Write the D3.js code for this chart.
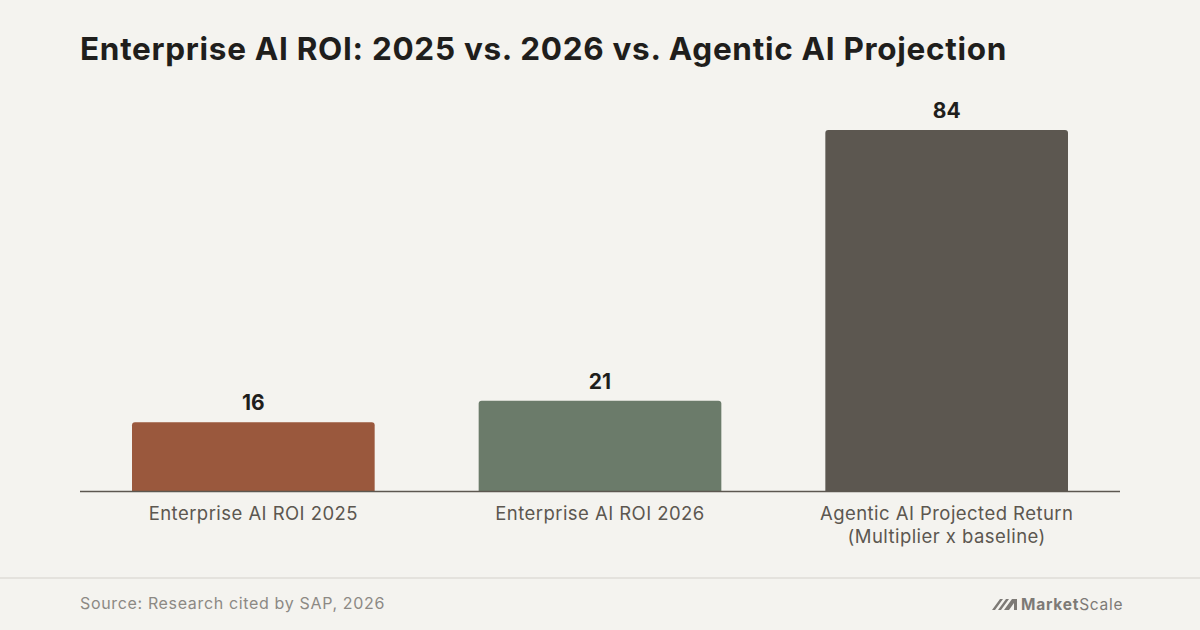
<!DOCTYPE html>
<html><head><meta charset="utf-8">
<script src="https://cdn.jsdelivr.net/npm/d3@7"></script>
<style>
html,body{margin:0;padding:0;background:#f4f3ef;}
svg{display:block;}
</style></head>
<body>
<svg id="chart" width="1200" height="630"></svg>
<script>
const categories = [["Enterprise AI ROI 2025"], ["Enterprise AI ROI 2026"], ["Agentic AI Projected Return", "(Multiplier x baseline)"]];
const values = [16, 21, 84];
const colors = ["#9a583d", "#6b7b6a", "#5c5750"];
const title = "Enterprise AI ROI: 2025 vs. 2026 vs. Agentic AI Projection";
const source = "Source: Research cited by SAP, 2026";

const svg = d3.select("#chart");
const W = 1200, H = 630;
const FONT = "Inter, 'Liberation Sans', sans-serif";
svg.append("rect").attr("width", W).attr("height", H).attr("fill", "#f4f3ef");

function fitWidth(sel, target) {
  const node = sel.node();
  const n = node.textContent.length;
  const w = node.getComputedTextLength();
  sel.attr("letter-spacing", (target - w) / n);
}

const t = svg.append("text").attr("x", 80).attr("y", 60)
  .attr("font-family", FONT)
  .attr("font-weight", 700).attr("font-size", 31.5)
  .attr("fill", "#1f1e1c").text(title);
fitWidth(t, 927);

const x = d3.scaleBand().domain(d3.range(values.length)).range([80, 1120])
  .paddingInner(0.3).paddingOuter(0.15);
const y = d3.scaleLinear().domain([0, 84]).range([491, 130]);

const g = svg.append("g");
g.selectAll("path.bar").data(values).join("path").attr("class", "bar")
  .attr("d", (d, i) => {
    const x0 = x(i), w = x.bandwidth(), y0 = y(d), h = y(0) - y(d), r = 3;
    return `M${x0},${y0 + h}V${y0 + r}Q${x0},${y0} ${x0 + r},${y0}H${x0 + w - r}Q${x0 + w},${y0} ${x0 + w},${y0 + r}V${y0 + h}Z`;
  })
  .attr("fill", (d, i) => colors[i]);

g.selectAll("text.val").data(values).join("text").attr("class", "val")
  .attr("x", (d, i) => x(i) + x.bandwidth() / 2).attr("y", d => y(d) - 12)
  .attr("text-anchor", "middle")
  .attr("font-family", FONT)
  .attr("font-weight", 700).attr("font-size", 21).attr("fill", "#1f1e1c")
  .text(d => d);

svg.append("line").attr("x1", 80).attr("x2", 1120).attr("y1", y(0) + 0.5).attr("y2", y(0) + 0.5)
  .attr("stroke", "#5c5750").attr("stroke-width", 1.5);

const labels = g.selectAll("text.cat").data(categories).join("text").attr("class", "cat")
  .attr("x", (d, i) => x(i) + x.bandwidth() / 2).attr("y", 520)
  .attr("text-anchor", "middle")
  .attr("font-family", FONT)
  .attr("font-size", 18.5).attr("letter-spacing", 0.45).attr("fill", "#5c5750");
labels.each(function(d, i) {
  d3.select(this).selectAll("tspan").data(d).join("tspan")
    .attr("x", x(i) + x.bandwidth() / 2).attr("dy", (t, j) => j === 0 ? 0 : 23).text(t => t);
});

svg.append("line").attr("x1", 0).attr("x2", W).attr("y1", 578).attr("y2", 578)
  .attr("stroke", "#e4e2dd").attr("stroke-width", 2);

const s = svg.append("text").attr("x", 80).attr("y", 609)
  .attr("font-family", FONT)
  .attr("font-size", 16).attr("fill", "#8c8984").text(source);
fitWidth(s, 305);

// logo
const logo = svg.append("g").attr("transform", "translate(992,599)");
logo.append("path")
  .attr("d", "M0,11 L8,0 L11,0 L3,11Z M6,11 L14,0 L17,0 L9,11Z M12,11 L20,0 L25,0 L25,11 L22,11 L22,4 L17,11Z")
  .attr("fill", "#7d7a76");
const lt = svg.append("text").attr("x", 1021).attr("y", 610)
  .attr("font-family", FONT)
  .attr("font-size", 15.5).attr("letter-spacing", -0.4).attr("fill", "#7d7a76");
lt.append("tspan").attr("font-weight", 700).text("Market");
lt.append("tspan").attr("font-weight", 400).text("Scale");
fitWidth(lt, 98);
</script>
</body></html>
